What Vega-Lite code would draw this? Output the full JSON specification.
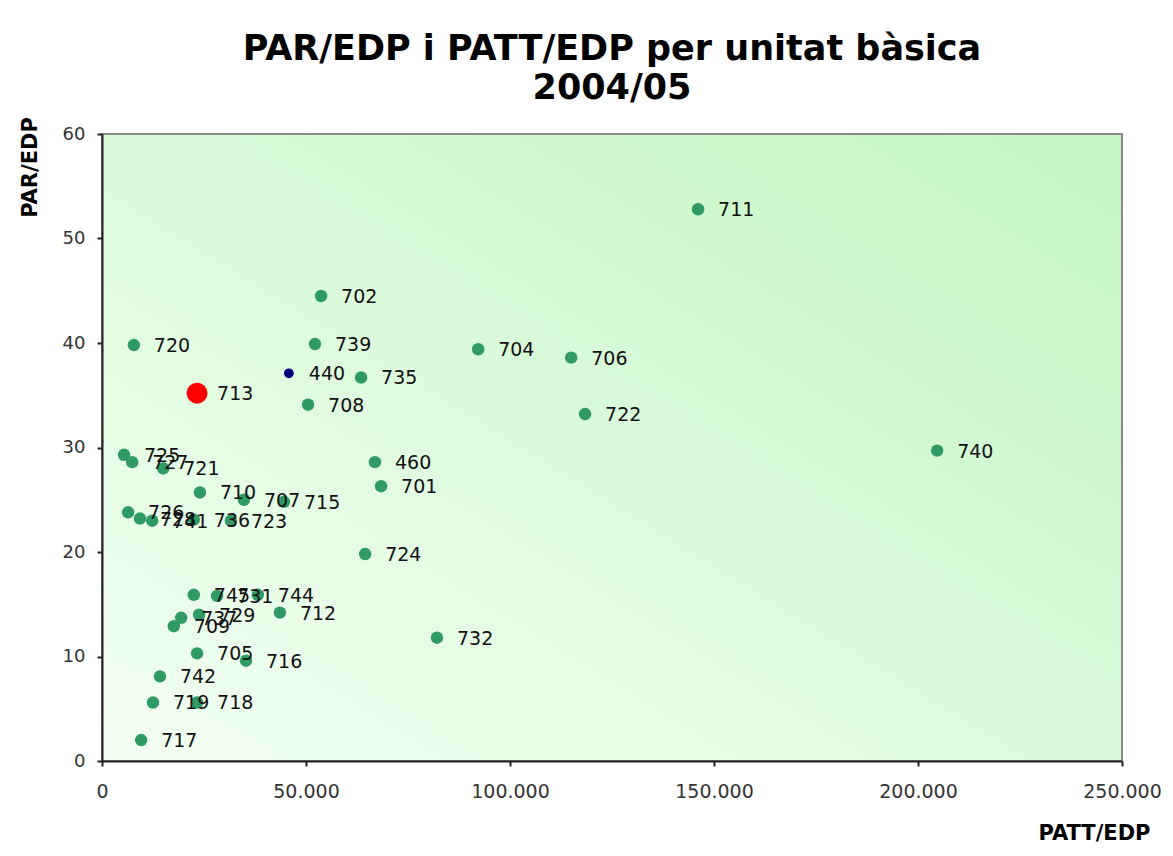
{
  "$schema": "https://vega.github.io/schema/vega-lite/v6.json",
  "width": 1020,
  "height": 627,
  "autosize": {"type": "none"},
  "padding": {"left": 102, "top": 134, "right": 51, "bottom": 95},
  "background": "white",
  "title": {
    "text": ["PAR/EDP i PATT/EDP per unitat bàsica", "2004/05"],
    "font": "DejaVu Sans",
    "fontSize": 35,
    "fontWeight": "bold",
    "color": "#000000",
    "lineHeight": 39,
    "anchor": "middle",
    "offset": 11
  },
  "data": {
    "values": [
      {"ub": "711", "patt": 146100, "par": 52.8, "tipus": "ub"},
      {"ub": "702", "patt": 53700, "par": 44.5, "tipus": "ub"},
      {"ub": "720", "patt": 7800, "par": 39.8, "tipus": "ub"},
      {"ub": "739", "patt": 52200, "par": 39.9, "tipus": "ub"},
      {"ub": "704", "patt": 92200, "par": 39.4, "tipus": "ub"},
      {"ub": "706", "patt": 115000, "par": 38.6, "tipus": "ub"},
      {"ub": "440", "patt": 45800, "par": 37.1, "tipus": "ref"},
      {"ub": "735", "patt": 63500, "par": 36.7, "tipus": "ub"},
      {"ub": "708", "patt": 50500, "par": 34.1, "tipus": "ub"},
      {"ub": "722", "patt": 118400, "par": 33.2, "tipus": "ub"},
      {"ub": "740", "patt": 204700, "par": 29.7, "tipus": "ub"},
      {"ub": "725", "patt": 5400, "par": 29.3, "tipus": "ub"},
      {"ub": "727", "patt": 7400, "par": 28.6, "tipus": "ub"},
      {"ub": "721", "patt": 15000, "par": 28.0, "tipus": "ub"},
      {"ub": "460", "patt": 66900, "par": 28.6, "tipus": "ub"},
      {"ub": "701", "patt": 68400, "par": 26.3, "tipus": "ub"},
      {"ub": "710", "patt": 24000, "par": 25.7, "tipus": "ub"},
      {"ub": "707", "patt": 34800, "par": 25.0, "tipus": "ub"},
      {"ub": "715", "patt": 44600, "par": 24.8, "tipus": "ub"},
      {"ub": "726", "patt": 6400, "par": 23.8, "tipus": "ub"},
      {"ub": "728", "patt": 9300, "par": 23.2, "tipus": "ub"},
      {"ub": "741", "patt": 12300, "par": 23.0, "tipus": "ub"},
      {"ub": "736", "patt": 22500, "par": 23.1, "tipus": "ub"},
      {"ub": "723", "patt": 31600, "par": 23.0, "tipus": "ub"},
      {"ub": "724", "patt": 64500, "par": 19.8, "tipus": "ub"},
      {"ub": "745", "patt": 22500, "par": 15.9, "tipus": "ub"},
      {"ub": "731", "patt": 28200, "par": 15.8, "tipus": "ub"},
      {"ub": "744", "patt": 38200, "par": 15.9, "tipus": "ub"},
      {"ub": "737", "patt": 19400, "par": 13.7, "tipus": "ub"},
      {"ub": "729", "patt": 23800, "par": 14.0, "tipus": "ub"},
      {"ub": "709", "patt": 17600, "par": 12.9, "tipus": "ub"},
      {"ub": "712", "patt": 43600, "par": 14.2, "tipus": "ub"},
      {"ub": "732", "patt": 82100, "par": 11.8, "tipus": "ub"},
      {"ub": "705", "patt": 23300, "par": 10.3, "tipus": "ub"},
      {"ub": "716", "patt": 35300, "par": 9.6, "tipus": "ub"},
      {"ub": "742", "patt": 14200, "par": 8.1, "tipus": "ub"},
      {"ub": "719", "patt": 12500, "par": 5.6, "tipus": "ub"},
      {"ub": "718", "patt": 23300, "par": 5.6, "tipus": "ub"},
      {"ub": "717", "patt": 9600, "par": 2.0, "tipus": "ub"},
      {"ub": "713", "patt": 23300, "par": 35.2, "tipus": "sel"}
    ]
  },
  "encoding": {
    "x": {
      "field": "patt",
      "type": "quantitative",
      "scale": {"domain": [0, 250000], "nice": false, "zero": true},
      "axis": {
        "title": "PATT/EDP",
        "values": [0, 50000, 100000, 150000, 200000, 250000],
        "format": ",.0f",
        "grid": false,
        "labelFlush": false,
        "labelPadding": 16,
        "labelFontSize": 19,
        "titleAnchor": "end",
        "titleAlign": "right",
        "titleX": 1048,
        "titleY": 72,
        "titleBaseline": "middle"
      }
    },
    "y": {
      "field": "par",
      "type": "quantitative",
      "scale": {"domain": [0, 60], "nice": false},
      "axis": {
        "title": "PAR/EDP",
        "values": [0, 10, 20, 30, 40, 50, 60],
        "grid": false,
        "labelPadding": 12,
        "labelFontSize": 18,
        "titleAngle": 270,
        "titleAlign": "center",
        "titleBaseline": "middle",
        "titleX": -72,
        "titleY": 33
      }
    }
  },
  "layer": [
    {
      "mark": {"type": "point", "filled": true, "opacity": 1, "strokeWidth": 0, "shape": "circle"},
      "encoding": {
        "color": {
          "field": "tipus",
          "type": "nominal",
          "scale": {"domain": ["ub", "ref", "sel"], "range": ["#2f9a63", "#00007f", "#ff0000"]},
          "legend": null
        },
        "size": {
          "condition": [
            {"test": "datum.tipus === 'sel'", "value": 440},
            {"test": "datum.tipus === 'ref'", "value": 95}
          ],
          "value": 155
        }
      }
    },
    {
      "mark": {
        "type": "text",
        "align": "left",
        "baseline": "middle",
        "dx": 20,
        "dy": 1,
        "font": "DejaVu Sans",
        "fontSize": 19,
        "color": "#111111"
      },
      "encoding": {"text": {"field": "ub", "type": "nominal"}}
    }
  ],
  "config": {
    "locale": {
      "number": {"decimal": ",", "thousands": ".", "grouping": [3], "currency": ["", " €"]}
    },
    "view": {
      "fill": {
        "gradient": "linear",
        "x1": 1, "y1": 0, "x2": 0, "y2": 1,
        "stops": [
          {"offset": 0, "color": "#c2f6c2"},
          {"offset": 1, "color": "#f3fff3"}
        ]
      },
      "stroke": "#8a8a8a",
      "strokeWidth": 2
    },
    "axis": {
      "domainColor": "#222222",
      "domainWidth": 2,
      "tickColor": "#222222",
      "tickWidth": 2,
      "tickSize": 5,
      "labelFont": "DejaVu Sans",
      "labelColor": "#333333",
      "titleFont": "DejaVu Sans",
      "titleFontSize": 21,
      "titleFontWeight": "bold",
      "titleColor": "#000000"
    }
  }
}
